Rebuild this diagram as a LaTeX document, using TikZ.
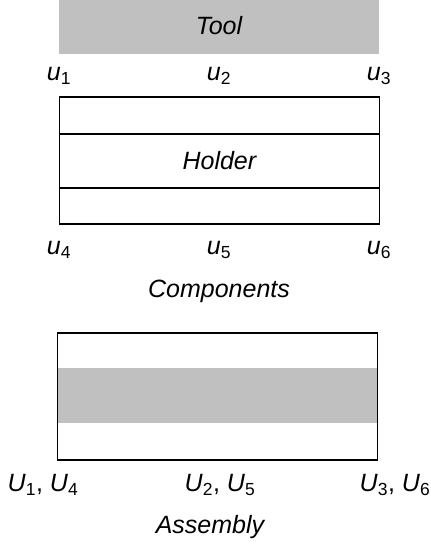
\documentclass[tikz,border=0pt]{standalone}
\usepackage{fontspec}
\setmainfont{Liberation Sans}
\newcommand\lab[2]{\textit{#1}\textsubscript{\upshape #2}}
\tikzset{
  txt/.style={inner sep=0pt, font=\fontsize{25}{30}\selectfont\itshape},
  lbl/.style={inner sep=0pt, font=\fontsize{25}{30}\selectfont},
  strip/.style={draw=black, line width=1.8pt, minimum width=320pt, inner sep=0pt, anchor=north west},
}
\definecolor{greyfill}{RGB}{192,192,192}
\begin{document}
\begin{tikzpicture}[x=1pt,y=-1pt]
\useasboundingbox (0,0) rectangle (431,550);
% Tool
\node[fill=greyfill, minimum width=320pt, minimum height=54pt, inner sep=0pt, anchor=north west] (tool) at (59,0) {};
\node[txt] (tooltxt) at (219,26) {Tool};
% labels top
\node[lbl] (u1) at (59,76) {\lab{u}{1}};
\node[lbl] (u2) at (219,76) {\lab{u}{2}};
\node[lbl] (u3) at (379,76) {\lab{u}{3}};
% Holder stack
\node[strip, minimum height=37pt] (top) at (58.5,96) {};
\node[strip, minimum height=54pt] (holder) at (58.5,133) {};
\node[strip, minimum height=36pt] (bot) at (58.5,187) {};
\node[txt] (holdertxt) at (holder.center) {Holder};
% labels bottom
\node[lbl] (u4) at (59,250) {\lab{u}{4}};
\node[lbl] (u5) at (219,250) {\lab{u}{5}};
\node[lbl] (u6) at (379,250) {\lab{u}{6}};
\node[txt] (comp) at (219,291) {Components};
% Assembly
\node[fill=greyfill, minimum width=320pt, minimum height=55pt, inner sep=0pt, anchor=north west] (band) at (56.5,368) {};
\node[draw=black, line width=1.8pt, minimum width=320pt, minimum height=127pt, inner sep=0pt, anchor=north west] (asm) at (56.5,332) {};
\node[lbl] (U14) at (43,485) {\lab{U}{1}, \lab{U}{4}};
\node[lbl] (U25) at (220,485) {\lab{U}{2}, \lab{U}{5}};
\node[lbl] (U36) at (395,485) {\lab{U}{3}, \lab{U}{6}};
\node[txt] (asmtxt) at (210,527) {Assembly};
\end{tikzpicture}
\end{document}
